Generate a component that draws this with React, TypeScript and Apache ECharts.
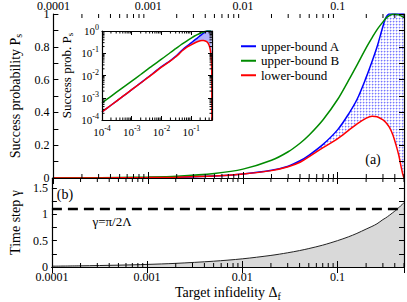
import React, { useEffect, useRef } from "react";
import * as echarts from "echarts";

// ---- data ----
const X = [1e-4, 2e-4, 5e-4, 1e-3, 2e-3, 5e-3, 0.01, 0.02, 0.03, 0.04, 0.05, 0.07, 0.1, 0.13, 0.16, 0.2, 0.23, 0.26, 0.3, 0.32, 0.35, 0.38, 0.41, 0.44, 0.46, 0.48, 0.49, 0.5];
const UPPER_A = [2.3e-4, 4.6e-4, 1.15e-3, 2.3e-3, 4.7e-3, 0.012, 0.025, 0.047, 0.072, 0.105, 0.14, 0.205, 0.295, 0.39, 0.48, 0.615, 0.71, 0.8, 0.925, 0.975, 1, 1, 1, 1, 1, 1, 1, 1];
const UPPER_B = [5.8e-4, 1.16e-3, 2.85e-3, 5.6e-3, 0.0111, 0.0278, 0.054, 0.108, 0.16, 0.212, 0.262, 0.355, 0.48, 0.595, 0.69, 0.795, 0.855, 0.905, 0.952, 0.972, 0.99, 0.998, 0.999, 0.995, 0.99, 0.984, 0.981, 0.978];
const LOWER = [2.3e-4, 4.6e-4, 1.15e-3, 2.3e-3, 4.6e-3, 0.0115, 0.024, 0.045, 0.069, 0.096, 0.13, 0.185, 0.24, 0.29, 0.33, 0.365, 0.377, 0.373, 0.355, 0.34, 0.31, 0.265, 0.205, 0.14, 0.085, 0.035, 0.015, 0];
const GAMMA = [0.0155, 0.022, 0.035, 0.049, 0.069, 0.11, 0.155, 0.22, 0.27, 0.312, 0.35, 0.415, 0.5, 0.572, 0.638, 0.72, 0.77, 0.82, 0.9, 0.93, 0.98, 1.03, 1.075, 1.125, 1.16, 1.19, 1.205, 1.217];
const GAMMA_LIMIT = 1.1;
const X_TICK_LABELS: Record<number, string> = { [-4]: "0.0001", [-3]: "0.001", [-2]: "0.01", [-1]: "0.1" };
const SERIES_NAMES = ["upper-bound A", "upper-bound B", "lower-bound"];
const COLORS = ["#0000ff", "#008b00", "#ff0000"];

const FONT = "Liberation Serif";
const X_MIN = 1e-4;
const X_MAX = 0.5;

export default function App() {
  const ref = useRef<HTMLDivElement>(null);
  useEffect(() => {
    if (!ref.current) return;
    const chart = echarts.init(ref.current, undefined, { renderer: "svg" });

    // dotted hatch pattern
    const pc = document.createElement("canvas");
    pc.width = 3;
    pc.height = 3;
    const ctx = pc.getContext("2d")!;
    ctx.fillStyle = "#ffffff";
    ctx.fillRect(0, 0, 3, 3);
    ctx.fillStyle = "#7878ff";
    ctx.fillRect(0, 0, 1, 1);
    ctx.fillStyle = "#c4c4ff";
    ctx.fillRect(1, 0, 1, 1);
    ctx.fillRect(0, 1, 1, 1);
    ctx.fillStyle = "#e6e6ff";
    ctx.fillRect(2, 0, 1, 1);
    ctx.fillRect(0, 2, 1, 1);

    const pairs = (ys: number[]) => X.map((x, i) => [x, ys[i]]);
    const insetLower = LOWER.map((v) => Math.max(v, 1e-6));

    const minorX: number[] = [];
    const minorY: number[] = [];
    for (let k = -4; k <= -1; k++) {
      for (let m = 2; m <= 9; m++) {
        const v = m * Math.pow(10, k);
        if (v <= X_MAX) minorX.push(v);
        minorY.push(v);
      }
    }

    const xFmt = (v: number) => {
      const l = Math.log10(v);
      const r = Math.round(l);
      if (Math.abs(l - r) > 1e-6) return "";
      return X_TICK_LABELS[r] ?? "";
    };
    const powFmt = (v: number) => {
      const l = Math.log10(v);
      const r = Math.round(l);
      if (Math.abs(l - r) > 1e-6) return "";
      return `{b|10}{s|${r}}`;
    };
    const powRich = {
      b: { fontSize: 11, fontFamily: FONT, color: "#000" },
      s: { fontSize: 8, fontFamily: FONT, color: "#000", padding: [0, 0, 7, 0] },
    };

    const axLine = { show: true, lineStyle: { color: "#000", width: 1.2 } };
    const logX = (gridIndex: number, position: string, labels: any, tickLen: number, extra: any = {}) => ({
      type: "log",
      logBase: 10,
      gridIndex,
      position,
      min: X_MIN,
      max: X_MAX,
      z: 10,
      axisLine: axLine,
      axisTick: { show: true, inside: true, length: tickLen, lineStyle: { color: "#000" } },
      splitLine: { show: false },
      axisLabel: labels,
      ...extra,
    });
    const noLabel = { show: false };
    const mainXLabel = { show: true, formatter: xFmt, fontSize: 12, fontFamily: FONT, color: "#000", interval: 0, hideOverlap: false };

    const valY = (gridIndex: number, position: string, min: number, max: number, interval: number, labelEvery: number, show: boolean, extra: any = {}) => ({
      type: "value",
      gridIndex,
      position,
      min,
      max,
      interval,
      z: 10,
      axisLine: axLine,
      axisTick: { show: true, inside: true, length: 5, lineStyle: { color: "#000" } },
      splitLine: { show: false },
      axisLabel: {
        show,
        fontSize: 12,
        fontFamily: FONT,
        color: "#000",
        margin: 4,
        formatter: (v: number) => {
          const q = v / labelEvery;
          if (Math.abs(q - Math.round(q)) > 1e-6) return "";
          return String(Math.round(v * 100) / 100);
        },
      },
      ...extra,
    });

    const tickLine = (x1: number, y1: number, x2: number, y2: number) => ({
      type: "line",
      shape: { x1, y1, x2, y2 },
      style: { stroke: "#000", lineWidth: 1 },
    });

    const minorXSeries = (xi: number, yi: number, yLo: number, yHi: number, len: number) => ({
      type: "custom",
      xAxisIndex: xi,
      yAxisIndex: yi,
      silent: true,
      clip: false,
      z: 11,
      data: minorX.map((v) => [v, yLo]),
      encode: { x: 0, y: 1 },
      renderItem: (params: any, api: any) => {
        const x = api.value(0);
        const a = api.coord([x, yLo]);
        const b = api.coord([x, yHi]);
        return {
          type: "group",
          children: [tickLine(a[0], a[1], a[0], a[1] - len), tickLine(b[0], b[1], b[0], b[1] + len)],
        };
      },
    });
    const minorYSeries = (xi: number, yi: number, len: number) => ({
      type: "custom",
      xAxisIndex: xi,
      yAxisIndex: yi,
      silent: true,
      clip: false,
      z: 11,
      data: minorY.map((v) => [X_MIN, v]),
      encode: { x: 0, y: 1 },
      renderItem: (params: any, api: any) => {
        const y = api.value(1);
        const a = api.coord([X_MIN, y]);
        const b = api.coord([X_MAX, y]);
        return {
          type: "group",
          children: [tickLine(a[0], a[1], a[0] + len, a[1]), tickLine(b[0], b[1], b[0] - len, b[1])],
        };
      },
    });

    const lineS = (name: string, data: any, color: string, xi: number, yi: number, width = 1.5) => ({
      type: "line",
      name,
      data,
      xAxisIndex: xi,
      yAxisIndex: yi,
      symbol: "none",
      smooth: 0.3,
      lineStyle: { color, width },
      itemStyle: { color },
      z: 4,
    });
    const areaS = (name: string, data: any, xi: number, yi: number, color: any, z: number) => ({
      type: "line",
      name,
      data,
      xAxisIndex: xi,
      yAxisIndex: yi,
      symbol: "none",
      smooth: 0.3,
      silent: true,
      lineStyle: { width: 0, opacity: 0 },
      areaStyle: { color, opacity: 1, origin: "start" },
      z,
    });

    const option: any = {
      animation: false,
      backgroundColor: "#fff",
      textStyle: { fontFamily: FONT },
      grid: [
        { left: 38, top: 13, width: 367, height: 165 },
        { left: 38, top: 178, width: 367, height: 90 },
        { left: 102, top: 31, width: 110, height: 89 },
      ],
      xAxis: [
        logX(0, "bottom", noLabel, 6),
        logX(0, "top", { ...mainXLabel, margin: 2 }, 6),
        logX(1, "bottom", { ...mainXLabel, margin: 4 }, 6, {
          name: "Target infidelity Δ{s|f}",
          nameLocation: "middle",
          nameGap: 17,
          nameTextStyle: {
            fontSize: 14,
            fontFamily: FONT,
            color: "#000",
            rich: { s: { fontSize: 10, fontFamily: FONT, color: "#000", padding: [7, 0, 0, 0] } },
          },
        }),
        logX(1, "top", noLabel, 6),
        logX(2, "bottom", { show: true, formatter: powFmt, rich: powRich, margin: 4, interval: 0, hideOverlap: false }, 4),
        logX(2, "top", noLabel, 4),
      ],
      yAxis: [
        valY(0, "left", 0, 1, 0.1, 0.2, true, {
          name: "Success probability P{s|s}",
          nameLocation: "middle",
          nameGap: 22,
          nameTextStyle: {
            fontSize: 14,
            fontFamily: FONT,
            color: "#000",
            rich: { s: { fontSize: 10, fontFamily: FONT, color: "#000", padding: [7, 0, 0, 0] } },
          },
        }),
        valY(0, "right", 0, 1, 0.1, 0.2, false),
        valY(1, "left", 0, 1.69, 0.25, 0.5, true, {
          name: "Time step γ",
          nameLocation: "middle",
          nameGap: 22,
          nameTextStyle: { fontSize: 14, fontFamily: FONT, color: "#000" },
        }),
        valY(1, "right", 0, 1.69, 0.25, 0.5, false),
        {
          type: "log",
          logBase: 10,
          gridIndex: 2,
          position: "left",
          min: 1e-4,
          max: 1,
          z: 10,
          axisLine: axLine,
          axisTick: { show: true, inside: true, length: 4, lineStyle: { color: "#000" } },
          splitLine: { show: false },
          axisLabel: { show: true, formatter: powFmt, rich: powRich, margin: 3, interval: 0, hideOverlap: false },
          name: "Success prob. P{s|s}",
          nameLocation: "middle",
          nameGap: 28,
          nameTextStyle: {
            fontSize: 13,
            fontFamily: FONT,
            color: "#000",
            rich: { s: { fontSize: 9, fontFamily: FONT, color: "#000", padding: [6, 0, 0, 0] } },
          },
        },
        {
          type: "log",
          logBase: 10,
          gridIndex: 2,
          position: "right",
          min: 1e-4,
          max: 1,
          z: 10,
          axisLine: axLine,
          axisTick: { show: true, inside: true, length: 4, lineStyle: { color: "#000" } },
          splitLine: { show: false },
          axisLabel: { show: false },
        },
      ],
      legend: {
        left: 236,
        top: 34,
        orient: "vertical",
        itemWidth: 15,
        itemHeight: 2,
        itemGap: 0,
        selectedMode: false,
        textStyle: { fontSize: 13, fontFamily: FONT, color: "#000", lineHeight: 14.5 },
        data: SERIES_NAMES.map((n) => ({ name: n, icon: "rect" })),
      },
      series: [
        // top panel: hatched band between lower bound and upper bound A
        areaS("band-top", pairs(UPPER_A), 0, 0, { image: pc, repeat: "repeat" }, 1),
        areaS("band-mask", pairs(LOWER), 0, 0, "#ffffff", 2),
        lineS(SERIES_NAMES[0], pairs(UPPER_A), COLORS[0], 0, 0),
        lineS(SERIES_NAMES[1], pairs(UPPER_B), COLORS[1], 0, 0),
        lineS(SERIES_NAMES[2], pairs(LOWER), COLORS[2], 0, 0),
        // inset
        areaS("inset-band-top", pairs(UPPER_A), 4, 4, "#b0b0ff", 1),
        areaS("inset-band-mask", pairs(insetLower), 4, 4, "#ffffff", 2),
        lineS("inset A", pairs(UPPER_A), COLORS[0], 4, 4, 1.5),
        lineS("inset B", pairs(UPPER_B), COLORS[1], 4, 4, 1.5),
        lineS("inset lower", pairs(insetLower), COLORS[2], 4, 4, 1.5),
        // bottom panel
        {
          type: "line",
          name: "gamma",
          data: pairs(GAMMA),
          xAxisIndex: 2,
          yAxisIndex: 2,
          symbol: "none",
          smooth: 0.3,
          lineStyle: { color: "#222", width: 1 },
          areaStyle: { color: "#d9d9d9", opacity: 1 },
          z: 2,
        },
        {
          type: "line",
          name: "limit",
          data: [[X_MIN, GAMMA_LIMIT], [X_MAX, GAMMA_LIMIT]],
          xAxisIndex: 2,
          yAxisIndex: 2,
          symbol: "none",
          lineStyle: { color: "#000", width: 2.5, type: [10, 6] },
          z: 4,
        },
        minorXSeries(0, 0, 0, 1, 4),
        minorXSeries(2, 2, 0, 1.69, 4),
        minorXSeries(4, 4, 1e-4, 1, 2.5),
        minorYSeries(4, 4, 2.5),
      ],
      graphic: [
        { type: "text", z: 100, x: 373, y: 159, style: { text: "(a)", font: `14px "${FONT}"`, fill: "#000", textAlign: "center", textVerticalAlign: "middle" } },
        { type: "text", z: 100, x: 65, y: 194, style: { text: "(b)", font: `14px "${FONT}"`, fill: "#000", textAlign: "center", textVerticalAlign: "middle" } },
        { type: "text", z: 100, x: 112, y: 221, style: { text: "γ=π/2Λ", font: `13px "${FONT}"`, fill: "#000", textAlign: "center", textVerticalAlign: "middle" } },
      ],
    };

    chart.setOption(option);
    return () => chart.dispose();
  }, []);

  return <div ref={ref} style={{ position: "fixed", left: 0, top: 0, width: 407, height: 302 }} />;
}
